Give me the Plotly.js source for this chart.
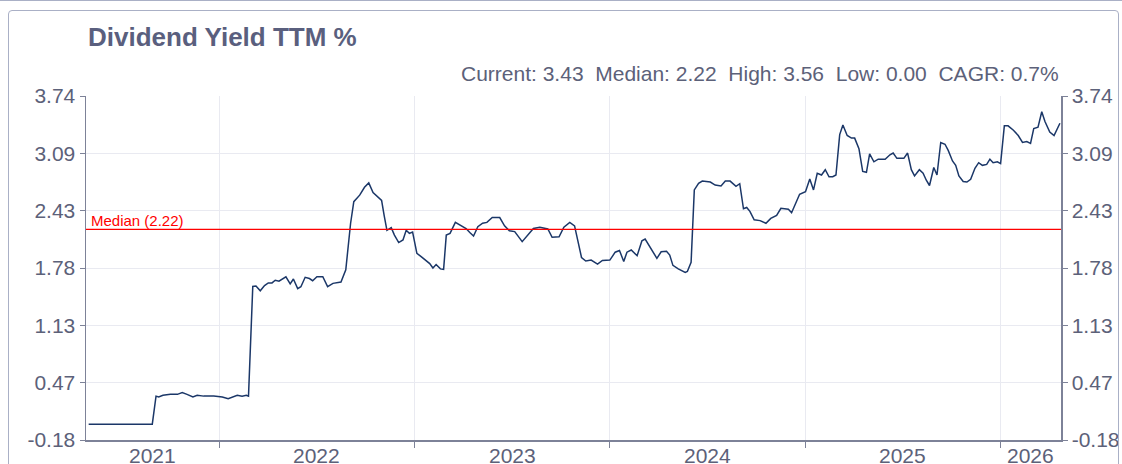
<!DOCTYPE html>
<html><head><meta charset="utf-8">
<script src="https://cdn.plot.ly/plotly-3.0.1.min.js"></script>
<style>
html,body{margin:0;padding:0;background:#fff;}
#wrap{position:relative;width:1122px;height:464px;overflow:hidden;}
#chart{width:1122px;height:464px;}
#frame{position:absolute;left:8px;top:10px;width:1109px;height:480px;border:1px solid #aab0c6;border-radius:4px;pointer-events:none;}
#topline{position:absolute;left:0;top:0;width:1122px;height:1px;background:#aab0c6;}
</style></head>
<body><div id="wrap"><div id="chart"></div><div id="frame"></div><div id="topline"></div></div>
<script>
const dates = [
"2021-05-01","2021-05-22","2021-06-19","2021-07-17","2021-08-14","2021-08-28",
"2021-09-04","2021-09-09","2021-09-17","2021-10-01","2021-10-14","2021-10-23","2021-11-01","2021-11-12","2021-11-20","2021-12-02","2021-12-21",
"2022-01-06","2022-01-17","2022-01-24","2022-02-03","2022-02-12","2022-02-20","2022-02-24",
"2022-03-04","2022-03-10","2022-03-18","2022-03-26","2022-04-02","2022-04-09","2022-04-15","2022-04-22","2022-04-29",
"2022-05-05","2022-05-13","2022-05-19","2022-05-27","2022-06-02","2022-06-10","2022-06-18","2022-06-24",
"2022-07-02","2022-07-13","2022-07-22","2022-08-01","2022-08-10","2022-08-16","2022-08-25",
"2022-09-03","2022-09-09","2022-09-20","2022-09-29","2022-10-07","2022-10-15","2022-10-26","2022-10-31",
"2022-11-05","2022-11-10","2022-11-18","2022-11-24","2022-12-02","2022-12-10","2022-12-16","2022-12-22","2022-12-28",
"2023-01-05","2023-01-13","2023-01-22","2023-01-29","2023-02-04","2023-02-10","2023-02-18","2023-02-24",
"2023-03-01","2023-03-08","2023-03-18","2023-03-29","2023-04-07","2023-04-14","2023-04-21","2023-04-29",
"2023-05-08","2023-05-16","2023-05-26","2023-06-09","2023-06-18","2023-06-27","2023-07-07","2023-07-21",
"2023-08-01","2023-08-11","2023-08-23","2023-09-07","2023-09-15","2023-09-28","2023-10-07","2023-10-18","2023-10-27",
"2023-11-09","2023-11-17","2023-11-27","2023-12-09","2023-12-18",
"2024-01-01","2024-01-11","2024-01-19","2024-01-27","2024-02-02","2024-02-10","2024-02-21",
"2024-03-01","2024-03-07","2024-03-19","2024-03-29","2024-04-06","2024-04-16","2024-04-22","2024-04-28",
"2024-05-08","2024-05-21","2024-05-25","2024-06-01","2024-06-07","2024-06-15","2024-06-22",
"2024-07-07","2024-07-16","2024-07-27","2024-08-04","2024-08-13","2024-08-24","2024-08-31",
"2024-09-07","2024-09-13","2024-09-19","2024-09-27","2024-10-08","2024-10-19","2024-10-28",
"2024-11-08","2024-11-16","2024-11-30","2024-12-06","2024-12-12","2024-12-21",
"2025-01-01","2025-01-09","2025-01-16","2025-01-23","2025-01-31","2025-02-07","2025-02-14","2025-02-21","2025-02-27",
"2025-03-06","2025-03-12","2025-03-20","2025-03-28","2025-04-03","2025-04-11","2025-04-18","2025-04-25",
"2025-05-01","2025-05-09","2025-05-17","2025-05-30","2025-06-08","2025-06-14","2025-06-21",
"2025-07-04","2025-07-11","2025-07-18","2025-07-24","2025-08-02","2025-08-09","2025-08-15","2025-08-21","2025-08-29",
"2025-09-04","2025-09-11","2025-09-19","2025-09-25","2025-10-03","2025-10-09","2025-10-15","2025-10-23","2025-10-30",
"2025-11-06","2025-11-14","2025-11-21","2025-11-28","2025-12-06","2025-12-12","2025-12-18","2025-12-26",
"2026-01-01","2026-01-08","2026-01-15","2026-01-25","2026-02-03","2026-02-11","2026-02-19","2026-02-26",
"2026-03-04","2026-03-12","2026-03-19","2026-03-25","2026-04-03","2026-04-11","2026-04-22"
];
const yieldPct = [
0,0,0,0,0,0,
0.32,0.31,0.33,0.34,0.34,0.36,0.34,0.31,0.33,0.32,0.32,
0.31,0.29,0.31,0.33,0.32,0.33,0.32,
1.57,1.575,1.52,1.58,1.61,1.61,1.64,1.63,1.66,
1.68,1.60,1.655,1.545,1.567,1.674,1.66,1.635,
1.68,1.68,1.567,1.605,1.61,1.62,1.76,
2.29,2.536,2.61,2.70,2.75,2.64,2.57,2.55,
2.37,2.21,2.24,2.155,2.07,2.10,2.21,2.175,2.19,
1.947,1.91,1.87,1.83,1.78,1.82,1.77,1.765,
2.155,2.175,2.30,2.26,2.23,2.185,2.145,2.25,
2.29,2.30,2.355,2.355,2.26,2.205,2.195,2.08,
2.155,2.23,2.245,2.225,2.13,2.135,2.245,2.30,2.26,
1.90,1.86,1.87,1.825,1.866,
1.87,1.96,1.98,1.855,1.96,1.985,1.92,
2.09,2.11,1.985,1.89,1.965,1.97,1.928,1.81,
1.77,1.73,1.74,1.845,2.67,2.745,2.77,
2.76,2.725,2.715,2.77,2.77,2.71,2.74,
2.455,2.47,2.425,2.33,2.32,2.29,2.345,
2.38,2.46,2.45,2.41,2.497,2.62,
2.65,2.795,2.67,2.86,2.84,2.90,2.82,2.82,2.84,
3.30,3.41,3.29,3.26,3.26,3.14,2.88,2.87,
3.08,2.99,3.02,3.02,3.07,3.09,3.03,
3.03,3.09,2.90,2.83,2.90,2.86,2.78,2.72,2.925,
2.84,3.21,3.19,3.12,3.00,2.95,2.83,2.765,2.76,
2.79,2.916,2.98,2.95,2.96,3.02,2.98,2.99,
2.97,3.40,3.40,3.35,3.29,3.21,3.22,3.20,
3.37,3.385,3.56,3.45,3.33,3.29,3.43
];
const medianValue = 2.22;
const yTickVals = [-0.18, 0.4733, 1.1267, 1.78, 2.4333, 3.0867, 3.74];
const yTickText = ["-0.18","0.47","1.13","1.78","2.43","3.09","3.74"];
const xRange = ["2021-04-26", "2026-04-24"];
const yearTicks = ["2022-01-01","2023-01-01","2024-01-01","2025-01-01","2026-01-01"];
const yearLabels = ["2021","2022","2023","2024","2025","2026"];
const titleText = "Dividend Yield TTM %";
const statsText = "Current: 3.43\u00a0 Median: 2.22\u00a0 High: 3.56\u00a0 Low: 0.00\u00a0 CAGR: 0.7%";
const medianLabel = "Median (2.22)";

const FONT = "Liberation Sans, Arial, sans-serif";
const axisCol = "#7d8298";
const txtCol = "#5c6179";
const gridCol = "#e9eaf1";

// year label positions: centre of each visible year period
const bounds = [xRange[0]].concat(yearTicks, [xRange[1]]).map(d => Date.parse(d));
const yearAnn = yearLabels.map((lab, i) => ({
  text: lab, xref: "x", yref: "paper",
  x: new Date((bounds[i] + bounds[i+1]) / 2).toISOString().slice(0, 10),
  y: 0, xanchor: "center", yanchor: "top", yshift: -2, showarrow: false,
  font: {family: FONT, size: 21, color: txtCol}
}));

const traces = [
  {x: dates, y: yieldPct, type: "scatter", mode: "lines",
   line: {color: "#1b3768", width: 1.5}, hoverinfo: "x+y", showlegend: false},
  {x: [dates[0]], y: [medianValue], type: "scatter", mode: "none", yaxis: "y2",
   hoverinfo: "skip", showlegend: false}
];
const yCommon = {
  range: [yTickVals[0], yTickVals[yTickVals.length-1]],
  tickmode: "array", tickvals: yTickVals, ticktext: yTickText,
  showline: true, linecolor: axisCol, linewidth: 1.5,
  ticks: "outside", ticklen: 5, tickcolor: axisCol, tickwidth: 1,
  zeroline: false, tickfont: {family: FONT, size: 21, color: txtCol}
};
const layout = {
  width: 1122, height: 464,
  margin: {l: 86, r: 61, t: 96, b: 24},
  paper_bgcolor: "#ffffff", plot_bgcolor: "#ffffff",
  font: {family: FONT, color: txtCol},
  xaxis: {
    type: "date", range: xRange, tickmode: "array", tickvals: yearTicks,
    showticklabels: false,
    showline: true, linecolor: axisCol, linewidth: 1.5,
    ticks: "outside", ticklen: 6, tickcolor: axisCol,
    showgrid: true, gridcolor: gridCol, zeroline: false
  },
  yaxis: Object.assign({}, yCommon, {showgrid: true, gridcolor: gridCol, side: "left"}),
  yaxis2: Object.assign({}, yCommon, {overlaying: "y", side: "right", showgrid: false}),
  shapes: [
    {type: "line", xref: "paper", x0: 0, x1: 1, yref: "y", y0: medianValue, y1: medianValue,
     line: {color: "#ff0000", width: 1.3}}
  ],
  annotations: [
    {text: "<b>" + titleText + "</b>", xref: "paper", yref: "paper", x: 0, y: 1,
     xanchor: "left", yanchor: "middle", yshift: 59, showarrow: false,
     font: {family: FONT, size: 26, color: "#5a5f7e"}},
    {text: statsText, xref: "paper", yref: "paper", x: 1, y: 1,
     xanchor: "right", yanchor: "middle", yshift: 23, showarrow: false,
     font: {family: FONT, size: 21, color: txtCol}},
    {text: medianLabel, xref: "paper", yref: "y", x: 0, y: medianValue,
     xanchor: "left", yanchor: "bottom", xshift: 3, yshift: -2, showarrow: false,
     font: {family: FONT, size: 15, color: "#ff0000"}}
  ].concat(yearAnn)
};
Plotly.newPlot("chart", traces, layout, {displayModeBar: false, staticPlot: true});
</script>
</body></html>
